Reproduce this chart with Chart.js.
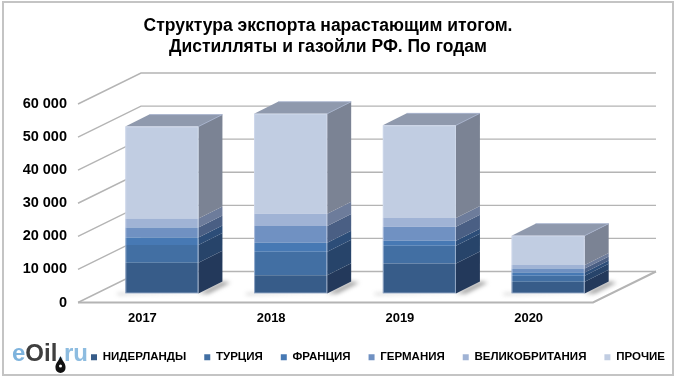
<!DOCTYPE html>
<html lang="ru">
<head>
<meta charset="utf-8">
<style>html,body{margin:0;padding:0;background:#fff}#w{position:relative;width:680px;height:384px}</style>
<script src="https://cdn.jsdelivr.net/npm/chart.js@4"></script>
</head>
<body>
<div id="w"><canvas id="c" width="680" height="384"></canvas></div>
<script>
const titleLines = ['Структура экспорта нарастающим итогом.', 'Дистилляты и газойли РФ. По годам'];
const categories = ['2017', '2018', '2019', '2020'];
const netherlands = [9300, 5550, 9100, 3540];
const turkey = [5350, 7070, 5350, 1820];
const france = [2300, 2730, 1500, 1010];
const germany = [3000, 5050, 4240, 1210];
const britain = [2700, 3740, 2630, 1010];
const others = [27800, 30200, 28000, 8900];
const seriesNames = ['НИДЕРЛАНДЫ', 'ТУРЦИЯ', 'ФРАНЦИЯ', 'ГЕРМАНИЯ', 'ВЕЛИКОБРИТАНИЯ', 'ПРОЧИЕ'];
const seriesValues = [netherlands, turkey, france, germany, britain, others];
const frontColors = ['#375c89', '#426fa3', '#4779b4', '#7091c2', '#a0b3d5', '#c1cde2'];
const sideColors = ['#23395b', '#27446a', '#2c4d78', '#4a5f84', '#6d7c9b', '#7b8394'];
const topColor = '#8f99ad';
const gridColor = '#b4b4b4';
const FONT = '"Liberation Sans", Arial, sans-serif';
const wallDX = 63, wallDY = 31, barDX = 19.5, barDY = 9, sideDX = 24, sideDY = 12;

const scene = {
  id: 'scene',
  afterLayout(chart) {
    const l = chart.legend;
    const w = l.right - l.left;
    l.left = 73; l.right = 73 + w;
    const t = chart.titleBlock;
    t.left = 0; t.right = 656;
  },
  beforeDraw(chart) {
    const c = chart.ctx;
    c.save();
    c.strokeStyle = '#c4c4c4'; c.lineWidth = 2;
    c.strokeRect(3, 2, 670, 373);
    c.restore();
  },
  beforeDatasetsDraw(chart) {
    const c = chart.ctx, a = chart.chartArea, y = chart.scales.y;
    c.save();
    c.strokeStyle = gridColor; c.lineWidth = 1.4;
    y.ticks.forEach(t => {
      const p = y.getPixelForValue(t.value);
      c.beginPath();
      c.moveTo(a.left, p);
      c.lineTo(a.left + wallDX, p - wallDY);
      c.lineTo(a.right + wallDX, p - wallDY);
      c.stroke();
    });
    const b = y.getPixelForValue(0);
    c.lineWidth = 2;
    c.beginPath();
    c.moveTo(a.left, b); c.lineTo(a.right, b); c.lineTo(a.right + wallDX, b - wallDY);
    c.stroke();
    c.restore();

    c.save();
    c.translate(barDX, -barDY);
    const first = chart.getDatasetMeta(0).data;
    first.forEach(el => {
      const l = el.x - el.width / 2, r = el.x + el.width / 2, f = el.base;
      c.save();
      c.filter = 'blur(2px)';
      c.fillStyle = 'rgba(90,90,90,.6)';
      c.beginPath();
      c.moveTo(l - 8, f); c.lineTo(r, f); c.lineTo(r + sideDX, f - sideDY);
      c.lineTo(r + sideDX + 8, f - sideDY + 1); c.lineTo(r + 10, f); c.lineTo(l - 8, f + 1);
      c.closePath(); c.fill();
      c.restore();
    });
    chart.data.datasets.forEach((ds, i) => {
      chart.getDatasetMeta(i).data.forEach(el => {
        const r = el.x + el.width / 2;
        c.fillStyle = sideColors[i];
        c.beginPath();
        c.moveTo(r, el.base); c.lineTo(r + sideDX, el.base - sideDY);
        c.lineTo(r + sideDX, el.y - sideDY); c.lineTo(r, el.y);
        c.closePath(); c.fill();
      });
    });
    const lastIdx = chart.data.datasets.length - 1;
    chart.getDatasetMeta(lastIdx).data.forEach(el => {
      const l = el.x - el.width / 2, r = el.x + el.width / 2;
      c.fillStyle = topColor;
      c.beginPath();
      c.moveTo(l, el.y); c.lineTo(r, el.y);
      c.lineTo(r + sideDX, el.y - sideDY); c.lineTo(l + sideDX, el.y - sideDY);
      c.closePath(); c.fill();
    });
  },
  afterDatasetsDraw(chart) {
    const c = chart.ctx;
    const lastIdx = chart.data.datasets.length - 1;
    const bottoms = chart.getDatasetMeta(0).data;
    chart.getDatasetMeta(lastIdx).data.forEach((el, k) => {
      const l = el.x - el.width / 2, r = el.x + el.width / 2, b = bottoms[k].base;
      c.strokeStyle = 'rgba(215,222,240,.55)'; c.lineWidth = 1;
      c.strokeRect(l + .5, el.y + .5, r - l - 1, b - el.y - 1);
      c.strokeStyle = 'rgba(165,178,205,.8)';
      c.beginPath();
      c.moveTo(r, el.y); c.lineTo(r + sideDX, el.y - sideDY); c.lineTo(l + sideDX, el.y - sideDY);
      c.stroke();
    });
    c.restore();
  },
  afterDraw(chart) {
    const c = chart.ctx;
    c.save();
    c.font = 'bold 24px ' + FONT;
    c.textBaseline = 'alphabetic';
    let x = 12;
    [['e', '#7eb3dd'], ['Oil', '#3f3f3f'], ['.ru', '#8dbce0']].forEach(([s, col]) => {
      c.fillStyle = col;
      c.fillText(s, x, 361);
      x += c.measureText(s).width;
    });
    c.fillStyle = '#111';
    c.beginPath();
    c.moveTo(60.5, 356);
    c.bezierCurveTo(62, 361, 66, 363, 65.5, 368);
    c.arc(60.5, 368, 5, 0, Math.PI);
    c.bezierCurveTo(55, 363, 59, 361, 60.5, 356);
    c.fill();
    c.fillStyle = '#fff';
    c.beginPath(); c.arc(60.5, 366, 1.5, 0, Math.PI * 2); c.fill();
    c.restore();
  }
};

new Chart(document.getElementById('c'), {
  type: 'bar',
  data: {
    labels: categories,
    datasets: seriesNames.map((n, i) => ({
      label: n,
      data: seriesValues[i],
      backgroundColor: frontColors[i],
      borderWidth: 0,
      barPercentage: 0.5677,
      categoryPercentage: 1
    }))
  },
  plugins: [scene],
  options: {
    responsive: false,
    animation: false,
    layout: { padding: { left: 0, right: 0, top: 0, bottom: 11 } },
    plugins: {
      tooltip: { enabled: false },
      title: {
        display: true,
        text: titleLines,
        color: '#000',
        font: { family: FONT, size: 17.5, weight: 'bold', lineHeight: 1.2 },
        padding: { top: 16, bottom: 46 }
      },
      legend: {
        position: 'bottom',
        align: 'start',
        labels: {
          boxWidth: 6, boxHeight: 6,
          padding: 18,
          color: '#000',
          font: { family: FONT, size: 11.5, weight: 'bold' }
        }
      }
    },
    scales: {
      x: {
        stacked: true,
        grid: { display: false },
        border: { display: false },
        afterFit(s) { s.height = 31; },
        ticks: { color: '#000', padding: 0, font: { family: FONT, size: 13, weight: 'bold' } }
      },
      y: {
        stacked: true,
        min: 0, max: 60000,
        grid: { display: false },
        border: { display: false },
        afterFit(s) { s.width = 78; },
        ticks: {
          stepSize: 10000, padding: 3, color: '#000',
          font: { family: FONT, size: 14.5, weight: 'bold' },
          callback: v => v === 0 ? '0' : String(v).replace(/(\d)(\d{3})$/, '$1 $2')
        }
      },
      depthGutter: {
        type: 'linear',
        position: 'right',
        grid: { display: false },
        border: { display: false },
        ticks: { display: false },
        afterFit(s) { s.width = 87; }
      }
    }
  }
});
</script>
</body>
</html>
